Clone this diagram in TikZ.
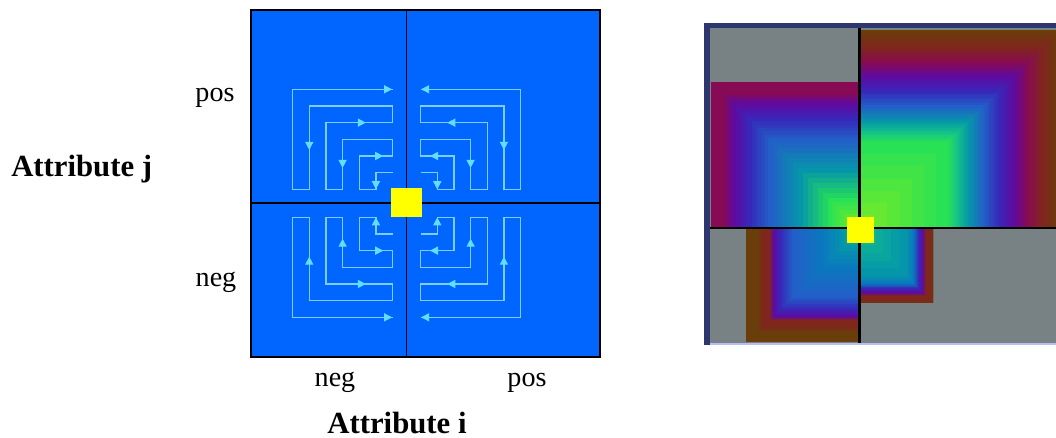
\documentclass[tikz,border=0pt]{standalone}
\usepackage{fontspec}
\setmainfont{Liberation Serif}
\usepackage{tikz}
\usetikzlibrary{arrows.meta}
\definecolor{quadblue}{RGB}{0, 102, 255}
\definecolor{trailcyan}{RGB}{125, 205, 255}
\definecolor{tipcyan}{RGB}{100, 220, 255}
\definecolor{markyellow}{RGB}{255, 255, 0}
\definecolor{mapgrey}{RGB}{120, 130, 132}
\definecolor{mapnavy}{RGB}{45, 55, 110}
\definecolor{maplilac}{RGB}{185, 190, 240}
\definecolor{hmOlive}{RGB}{105, 62, 10}
\definecolor{hmBrick}{RGB}{128, 38, 28}
\definecolor{hmMaroon}{RGB}{135, 10, 85}
\definecolor{hmPurple}{RGB}{95, 10, 160}
\definecolor{hmIndigo}{RGB}{55, 40, 185}
\definecolor{hmBlue}{RGB}{35, 95, 200}
\definecolor{hmDeep}{RGB}{10, 120, 190}
\definecolor{hmTeal}{RGB}{5, 150, 170}
\definecolor{hmSea}{RGB}{20, 195, 135}
\definecolor{hmGreen}{RGB}{40, 225, 85}
\definecolor{hmLime}{RGB}{115, 235, 40}

% one quadrant of the search trail, mirrored by #1 and #2
\newcommand\trailspiral[2]{%
  \begin{scope}[shift={(406.6,203.3)}, x=-0.3334cm, y=0.3334cm, xscale=#1, yscale=#2, shift={(0.84,0.84)}]
    \draw[trail] (0,1) -- (1,1) -- (1,0) -- (2,0) -- (2,2) -- (0,2) -- (0,3) -- (3,3) -- (3,0)
      -- (4,0) -- (4,4) -- (0,4) -- (0,5) -- (5,5) -- (5,0) -- (6,0) -- (6,6) -- (0,6);
    \draw[arrowmark] (1,0.5) -- (1,0);
    \draw[arrowmark] (1.2,2) -- (0.56,2);
    \draw[arrowmark] (3,2) -- (3,1.28);
    \draw[arrowmark] (2.3,4) -- (1.6,4);
    \draw[arrowmark] (5,3) -- (5,2.36);
    \draw[arrowmark] (0.7,6) -- (0.03,6);
  \end{scope}}

% square rings round the yellow mark, outer to inner
\newcommand\heatrings[1]{%
  \foreach \da/\ca/\db/\cb in {#1}{%
    \foreach \k in {0,...,5}{%
      \pgfmathsetmacro\dd{\da-(\da-\db)*\k/6}%
      \pgfmathtruncatemacro\pp{100*\k/6}%
      \path[fill=\cb!\pp!\ca] ({860.3-\dd},{230-\dd}) rectangle ({860.3+\dd},{230+\dd});
    }}}

\begin{document}
\begin{tikzpicture}[
    x=0.02cm, y=-0.02cm,
    lab/.style={font=\fontsize{16}{19}\selectfont, anchor=base, inner sep=0pt},
    axislab/.style={font=\bfseries\fontsize{17.5}{21}\selectfont, anchor=base, inner sep=0pt},
    trail/.style={draw=trailcyan, line width=0.7pt},
    arrowmark/.style={-{Triangle[length=4.6pt, width=4.6pt]}, draw=tipcyan, line width=0.7pt},
    hairline/.style={draw=black, line width=1pt}
]
    \useasboundingbox (0,0) rectangle (1056,437);

    % Left panel
    \fill[quadblue] (251,10) rectangle (600,357);
    \trailspiral{1}{1}
    \trailspiral{-1}{1}
    \trailspiral{1}{-1}
    \trailspiral{-1}{-1}
    \draw[hairline] (406.6,10) -- (406.6,357);
    \draw[hairline] (251,203.3) -- (600,203.3);
    \draw[black, line width=1.1pt] (251,10) rectangle (600,357);
    \fill[markyellow] (391,187.5) rectangle (422,217);

    % Labels
    \node[lab] (posj) at (215,101.5) {pos};
    \node[lab] (negj) at (216,286.5) {neg};
    \node[axislab] (attrj) at (81.7,176.7) {Attribute j};
    \node[lab] (negi) at (335,386) {neg};
    \node[lab] (posi) at (527,386) {pos};
    \node[axislab] (attri) at (397,433) {Attribute i};

    % Right panel
    \fill[mapgrey] (710,28) rectangle (1056,343);
    \begin{scope}
        \clip (859.5,30) rectangle (1056,228.3);
        \heatrings{200/hmOlive/184/hmBrick, 184/hmBrick/168/hmMaroon, 168/hmMaroon/155/hmPurple,
            155/hmPurple/140/hmIndigo, 140/hmIndigo/125/hmBlue, 125/hmBlue/110/hmTeal,
            110/hmTeal/98/hmSea, 98/hmSea/88/hmGreen, 88/hmGreen/15/hmLime, 15/hmLime/0/hmLime}
    \end{scope}
    \begin{scope}
        \clip (711,82) rectangle (859.5,228.3);
        \heatrings{150/hmMaroon/138/hmMaroon, 138/hmMaroon/127/hmPurple, 127/hmPurple/112/hmIndigo,
            112/hmIndigo/92/hmBlue, 92/hmBlue/62/hmTeal, 62/hmTeal/32/hmGreen, 32/hmGreen/8/hmLime}
    \end{scope}
    \begin{scope}
        \clip (746,228.3) rectangle (859.5,341);
        \heatrings{116/hmOlive/103/hmOlive, 103/hmOlive/97/hmBrick, 97/hmBrick/91/hmBrick,
            91/hmBrick/87/hmPurple, 87/hmPurple/80/hmIndigo, 80/hmIndigo/68/hmBlue,
            68/hmBlue/40/hmDeep, 40/hmDeep/18/hmTeal, 18/hmTeal/0/hmSea}
    \end{scope}
    \begin{scope}
        \clip (859.5,228.3) rectangle (933,302);
        \heatrings{75/hmOlive/70/hmBrick, 70/hmBrick/66/hmBrick, 66/hmBrick/63/hmPurple,
            63/hmPurple/59/hmIndigo, 59/hmIndigo/54/hmDeep, 54/hmDeep/46/hmTeal, 46/hmTeal/0/hmSea}
    \end{scope}
    \fill[mapnavy] (704,23) rectangle (710,345);
    \fill[mapnavy] (704,23) rectangle (1056,28);
    \fill[maplilac] (710,343) rectangle (1056,345);
    \draw[black, line width=1.2pt] (859.5,28) -- (859.5,343);
    \draw[black, line width=1.2pt] (710,228.3) -- (1056,228.3);
    \fill[markyellow] (846.7,216.7) rectangle (874,243.3);
\end{tikzpicture}
\end{document}
